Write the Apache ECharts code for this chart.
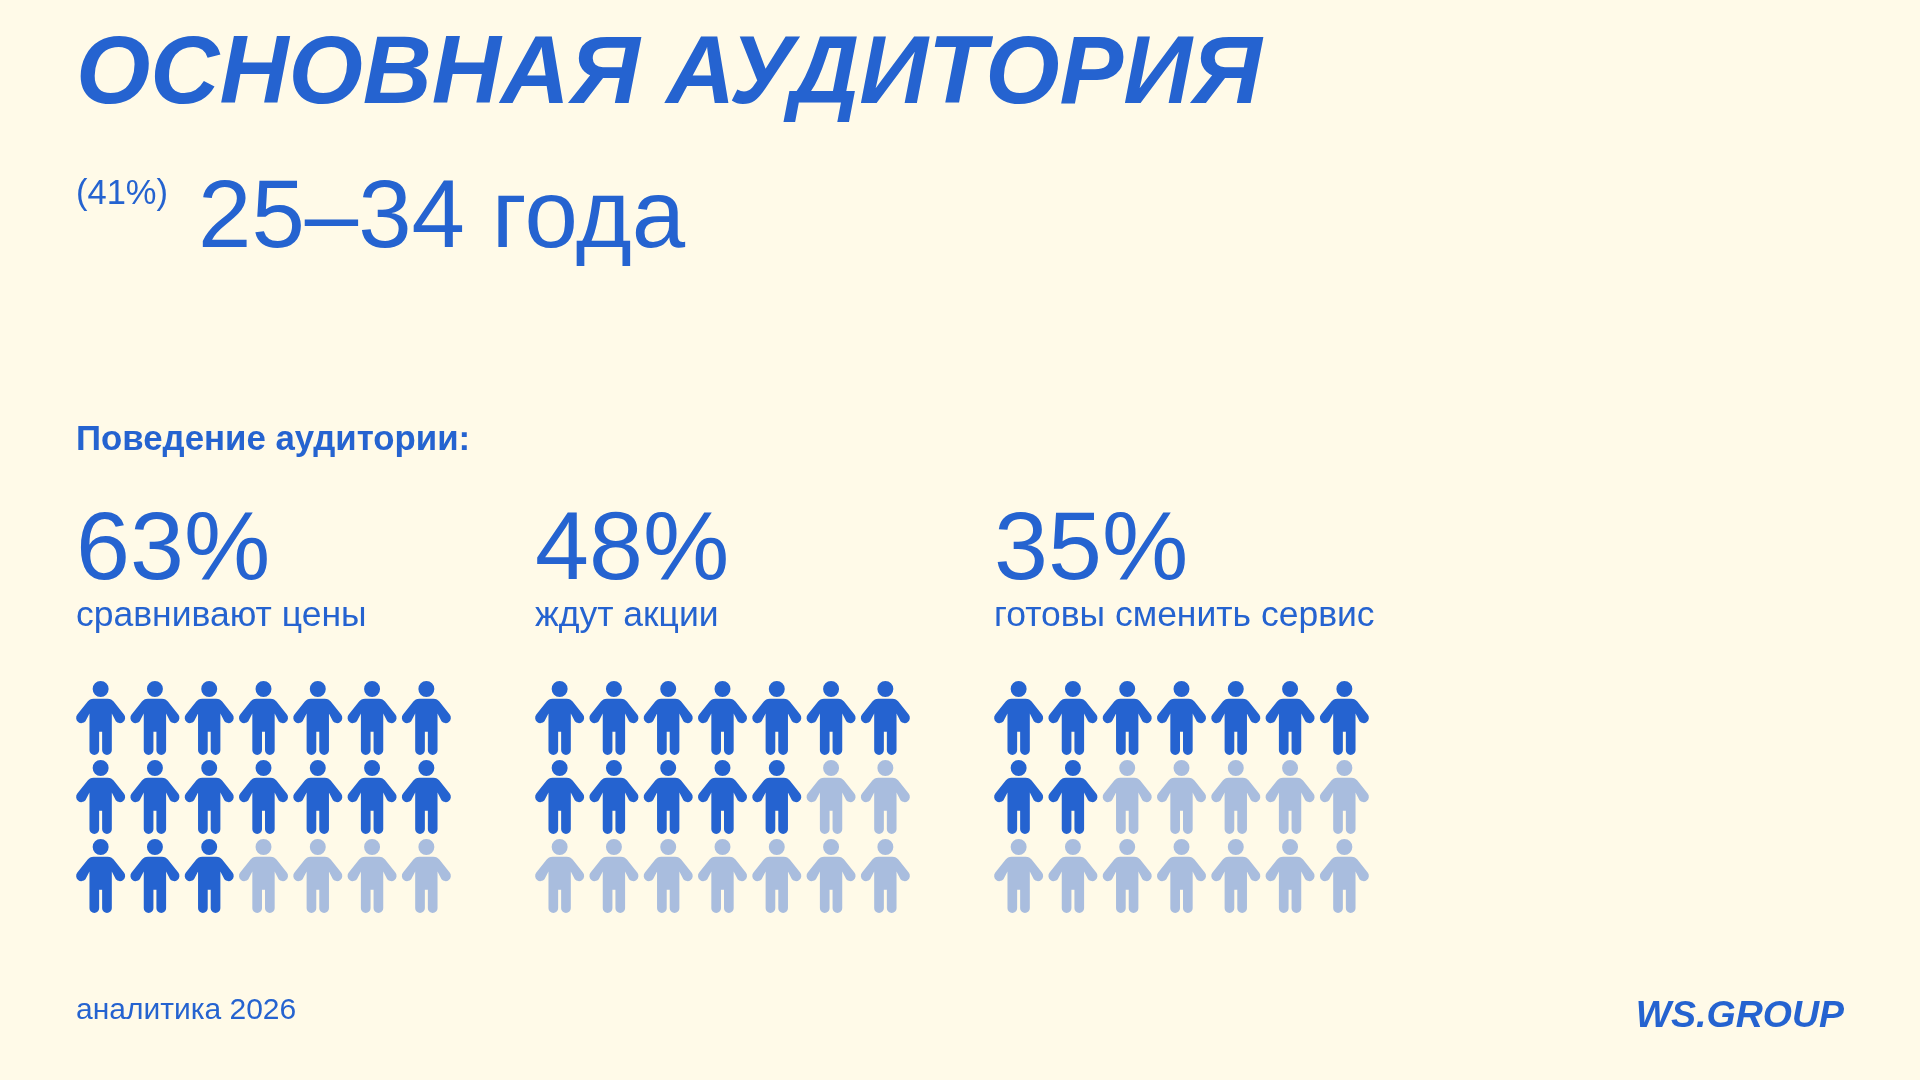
<!DOCTYPE html>
<html>
<head>
<meta charset="utf-8">
<title>Основная аудитория</title>
<style>
html, body { margin: 0; padding: 0; background: #fffae8; }
#main { width: 1920px; height: 1080px; }
</style>
<script src="https://cdn.jsdelivr.net/npm/echarts@6/dist/echarts.min.js"></script>
</head>
<body>
<div id="main"></div>
<script>
var headline = 'ОСНОВНАЯ АУДИТОРИЯ';
var mainShare = '(41%)';
var mainAge = '25–34 года';
var behaviourTitle = 'Поведение аудитории:';
var shareLabels = ['63%', '48%', '35%'];
var shareNames = ['сравнивают цены', 'ждут акции', 'готовы сменить сервис'];
// сколько фигурок закрашено из 21
var filledCounts = [17, 12, 9];
var columns = ['1', '2', '3', '4', '5', '6', '7'];
var rows = ['1', '2', '3'];
var footerLeft = 'аналитика 2026';
var footerRight = 'WS.GROUP';

var blue = '#2563d0';
var pale = '#a9bdde';
var fontName = '"Liberation Sans", Arial, sans-serif';
var groupLeft = [73.5, 532.5, 991.5];

var person = 'path://M24.5 0A8 8 0 1 1 24.5 16A8 8 0 1 1 24.5 0Z' +
	'M17.5 17.7H31.5C34.5 17.7 36 19 37.5 20.5L47.9 33.6A5.2 5.2 0 0 1 39.7 40.2L35.7 32.5V69.2' +
	'A4.85 4.85 0 0 1 26 69.2V50.7H23V69.2A4.85 4.85 0 0 1 13.3 69.2V32.5L9.3 40.2' +
	'A5.2 5.2 0 0 1 1.1 33.6L11.5 20.5C13 19 14.5 17.7 17.5 17.7Z';

function text(str, left, top, size, weight, style) {
	return {
		text: str,
		left: left,
		top: top,
		padding: 0,
		textStyle: {
			color: blue,
			fontFamily: fontName,
			fontSize: size,
			fontWeight: weight || 'normal',
			fontStyle: style || 'normal'
		}
	};
}

var titles = [
	text(headline, 76, 29, 95.6, 'bold', 'italic'),
	text(mainShare, 76, 177, 34.5),
	text(mainAge, 198, 173, 96),
	text(behaviourTitle, 76, 423, 34.8, 'bold'),
	text(footerLeft, 76, 996, 30),
	{
		text: footerRight,
		right: 76,
		top: 998,
		padding: 0,
		textStyle: { color: blue, fontFamily: fontName, fontSize: 37.5, fontWeight: 'bold', fontStyle: 'italic' }
	}
];
var grids = [], xAxes = [], yAxes = [], series = [];

filledCounts.forEach(function(filled, g) {
	titles.push(text(shareLabels[g], groupLeft[g] + 2.5, 504, 97));
	titles.push(text(shareNames[g], groupLeft[g] + 2.5, 598, 35.5));

	grids.push({ left: groupLeft[g], top: 678.5, width: 380, height: 237 });
	xAxes.push({ type: 'category', gridIndex: g, data: columns, show: false });
	yAxes.push({ type: 'category', gridIndex: g, data: rows, inverse: true, show: false });

	var on = [], off = [];
	rows.forEach(function(r, i) {
		columns.forEach(function(c, j) {
			(i * columns.length + j < filled ? on : off).push([c, r]);
		});
	});
	[[on, blue], [off, pale]].forEach(function(part) {
		series.push({
			type: 'scatter',
			xAxisIndex: g,
			yAxisIndex: g,
			data: part[0],
			symbol: person,
			symbolSize: [49, 74],
			silent: true,
			animation: false,
			itemStyle: { color: part[1], opacity: 1 }
		});
	});
});

var myChart = echarts.init(document.getElementById('main'));
myChart.setOption({
	backgroundColor: '#fffae8',
	animation: false,
	title: titles,
	grid: grids,
	xAxis: xAxes,
	yAxis: yAxes,
	series: series
});
</script>
</body>
</html>
